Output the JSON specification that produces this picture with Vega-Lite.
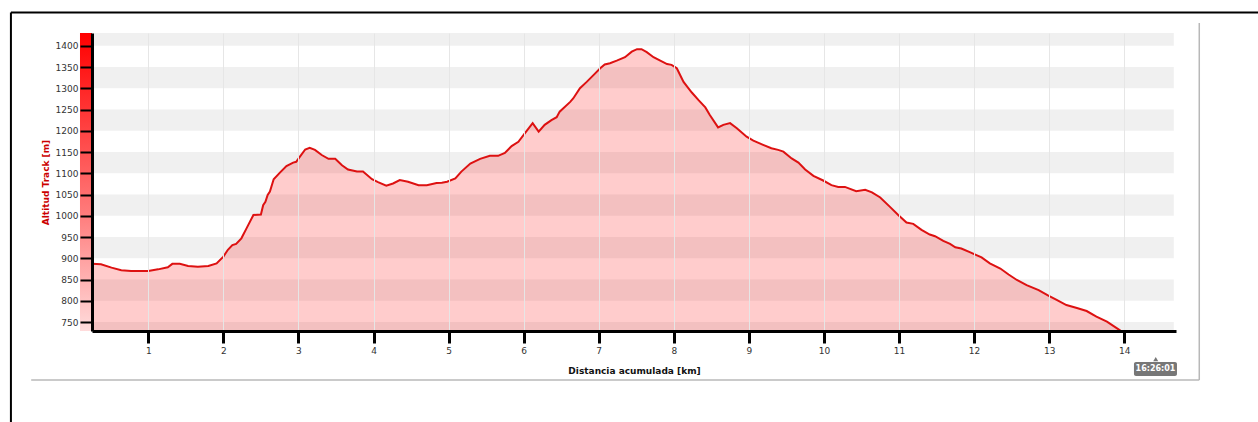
{
  "$schema": "https://vega.github.io/schema/vega-lite/v6.json",
  "width": 1084,
  "height": 298,
  "autosize": {"type": "none"},
  "padding": {"left": 92, "top": 33, "right": 82, "bottom": 91},
  "background": "white",
  "config": {"view": {"stroke": null}, "font": "DejaVu Sans"},
  "datasets": {
    "track": [
      {"km": 0.25, "alt": 887}, {"km": 0.37, "alt": 886}, {"km": 0.51, "alt": 878}, {"km": 0.64, "alt": 872},
      {"km": 0.77, "alt": 870}, {"km": 1.0, "alt": 870}, {"km": 1.13, "alt": 874}, {"km": 1.26, "alt": 879},
      {"km": 1.32, "alt": 887}, {"km": 1.42, "alt": 887}, {"km": 1.53, "alt": 882}, {"km": 1.66, "alt": 880},
      {"km": 1.8, "alt": 882}, {"km": 1.91, "alt": 888}, {"km": 2.0, "alt": 904}, {"km": 2.06, "alt": 920},
      {"km": 2.12, "alt": 931}, {"km": 2.17, "alt": 934}, {"km": 2.24, "alt": 947}, {"km": 2.31, "alt": 971},
      {"km": 2.4, "alt": 1002}, {"km": 2.5, "alt": 1003}, {"km": 2.53, "alt": 1025}, {"km": 2.56, "alt": 1033},
      {"km": 2.59, "alt": 1049}, {"km": 2.62, "alt": 1057}, {"km": 2.67, "alt": 1086}, {"km": 2.75, "alt": 1101},
      {"km": 2.84, "alt": 1117}, {"km": 2.93, "alt": 1125}, {"km": 2.97, "alt": 1127}, {"km": 3.02, "alt": 1139},
      {"km": 3.09, "alt": 1156}, {"km": 3.15, "alt": 1160}, {"km": 3.22, "alt": 1155}, {"km": 3.31, "alt": 1143},
      {"km": 3.4, "alt": 1134}, {"km": 3.49, "alt": 1134}, {"km": 3.58, "alt": 1119}, {"km": 3.66, "alt": 1109},
      {"km": 3.78, "alt": 1104}, {"km": 3.86, "alt": 1104}, {"km": 3.98, "alt": 1086}, {"km": 4.06, "alt": 1079},
      {"km": 4.17, "alt": 1071}, {"km": 4.26, "alt": 1076}, {"km": 4.35, "alt": 1084}, {"km": 4.46, "alt": 1080},
      {"km": 4.6, "alt": 1072}, {"km": 4.71, "alt": 1072}, {"km": 4.84, "alt": 1077}, {"km": 4.91, "alt": 1078},
      {"km": 4.98, "alt": 1080}, {"km": 5.09, "alt": 1088}, {"km": 5.17, "alt": 1104}, {"km": 5.29, "alt": 1123},
      {"km": 5.42, "alt": 1134}, {"km": 5.55, "alt": 1141}, {"km": 5.66, "alt": 1141}, {"km": 5.75, "alt": 1148},
      {"km": 5.84, "alt": 1164}, {"km": 5.93, "alt": 1174}, {"km": 6.02, "alt": 1195}, {"km": 6.12, "alt": 1218},
      {"km": 6.2, "alt": 1198}, {"km": 6.28, "alt": 1214}, {"km": 6.37, "alt": 1225}, {"km": 6.44, "alt": 1232},
      {"km": 6.48, "alt": 1245}, {"km": 6.62, "alt": 1268}, {"km": 6.66, "alt": 1276}, {"km": 6.75, "alt": 1300},
      {"km": 6.84, "alt": 1315}, {"km": 6.93, "alt": 1331}, {"km": 7.02, "alt": 1347}, {"km": 7.08, "alt": 1356},
      {"km": 7.15, "alt": 1359}, {"km": 7.24, "alt": 1365}, {"km": 7.35, "alt": 1373}, {"km": 7.44, "alt": 1386},
      {"km": 7.51, "alt": 1392}, {"km": 7.57, "alt": 1392}, {"km": 7.64, "alt": 1385}, {"km": 7.73, "alt": 1373},
      {"km": 7.82, "alt": 1365}, {"km": 7.91, "alt": 1357}, {"km": 7.97, "alt": 1355}, {"km": 8.04, "alt": 1347},
      {"km": 8.13, "alt": 1315}, {"km": 8.24, "alt": 1290}, {"km": 8.33, "alt": 1272}, {"km": 8.42, "alt": 1255},
      {"km": 8.48, "alt": 1237}, {"km": 8.59, "alt": 1208}, {"km": 8.66, "alt": 1214}, {"km": 8.75, "alt": 1218},
      {"km": 8.84, "alt": 1206}, {"km": 8.97, "alt": 1186}, {"km": 9.06, "alt": 1177}, {"km": 9.19, "alt": 1167},
      {"km": 9.3, "alt": 1159}, {"km": 9.39, "alt": 1155}, {"km": 9.46, "alt": 1151}, {"km": 9.57, "alt": 1135},
      {"km": 9.66, "alt": 1125}, {"km": 9.75, "alt": 1109}, {"km": 9.86, "alt": 1094}, {"km": 9.99, "alt": 1083},
      {"km": 10.1, "alt": 1072}, {"km": 10.19, "alt": 1068}, {"km": 10.28, "alt": 1068}, {"km": 10.43, "alt": 1058},
      {"km": 10.55, "alt": 1061}, {"km": 10.64, "alt": 1055}, {"km": 10.75, "alt": 1043}, {"km": 10.88, "alt": 1021},
      {"km": 10.99, "alt": 1002}, {"km": 11.1, "alt": 984}, {"km": 11.19, "alt": 981}, {"km": 11.3, "alt": 967},
      {"km": 11.41, "alt": 956}, {"km": 11.48, "alt": 952}, {"km": 11.59, "alt": 941}, {"km": 11.68, "alt": 934},
      {"km": 11.75, "alt": 926}, {"km": 11.83, "alt": 923}, {"km": 11.95, "alt": 914}, {"km": 12.1, "alt": 902},
      {"km": 12.21, "alt": 888}, {"km": 12.35, "alt": 876}, {"km": 12.46, "alt": 862}, {"km": 12.57, "alt": 849},
      {"km": 12.7, "alt": 837}, {"km": 12.86, "alt": 825}, {"km": 12.99, "alt": 812}, {"km": 13.1, "alt": 802},
      {"km": 13.23, "alt": 790}, {"km": 13.37, "alt": 783}, {"km": 13.5, "alt": 776}, {"km": 13.63, "alt": 763},
      {"km": 13.77, "alt": 751}, {"km": 13.95, "alt": 730}
    ],
    "bands": [
      {"lo": 1400, "hi": 1430}, {"lo": 1300, "hi": 1350}, {"lo": 1200, "hi": 1250}, {"lo": 1100, "hi": 1150},
      {"lo": 1000, "hi": 1050}, {"lo": 900, "hi": 950}, {"lo": 800, "hi": 850}, {"lo": 729, "hi": 750}
    ]
  },
  "encoding": {
    "x": {
      "type": "quantitative",
      "scale": {"domain": [0.25, 14.69], "nice": false, "zero": false},
      "axis": {
        "values": [1, 2, 3, 4, 5, 6, 7, 8, 9, 10, 11, 12, 13, 14],
        "format": "d", "labelOverlap": false,
        "grid": true, "gridColor": "#e6e6e6", "gridWidth": 1,
        "domainColor": "#000000", "domainWidth": 3,
        "tickColor": "#000000", "tickWidth": 3, "tickSize": 12,
        "labelFontSize": 9, "labelColor": "#333333", "labelPadding": 3,
        "title": "Distancia acumulada [km]", "titleFontSize": 9, "titleFontWeight": "bold",
        "titleColor": "#111111", "titlePadding": 11, "zindex": 1
      }
    },
    "y": {
      "type": "quantitative",
      "scale": {"domain": [729, 1430], "nice": false, "zero": false},
      "axis": {
        "values": [750, 800, 850, 900, 950, 1000, 1050, 1100, 1150, 1200, 1250, 1300, 1350, 1400],
        "format": "d", "labelOverlap": false, "labelBound": false,
        "grid": false,
        "domainColor": "#000000", "domainWidth": 3,
        "tickColor": "#000000", "tickWidth": 2, "tickSize": 12,
        "labelFontSize": 9, "labelColor": "#333333", "labelPadding": 2,
        "title": "Altitud Track [m]", "titleFontSize": 9, "titleFontWeight": "bold",
        "titleColor": "#cc0000", "titlePadding": 5, "zindex": 1
      }
    }
  },
  "layer": [
    {
      "data": {"name": "bands"},
      "mark": {"type": "rect", "fill": "#e6e6e6", "opacity": 0.6},
      "encoding": {
        "x": {"datum": 0.25, "type": "quantitative"},
        "x2": {"datum": 14.66},
        "y": {"field": "lo", "type": "quantitative"},
        "y2": {"field": "hi"}
      }
    },
    {
      "data": {"values": [{}]},
      "mark": {
        "type": "rect",
        "fill": {"gradient": "linear", "x1": 0, "y1": 0, "x2": 0, "y2": 1,
          "stops": [{"offset": 0, "color": "#ff0000"}, {"offset": 0.6, "color": "#ff7a7a"}, {"offset": 1, "color": "#ffdcdc"}]}
      },
      "encoding": {
        "x": {"datum": 0.09, "type": "quantitative"},
        "x2": {"datum": 0.25},
        "y": {"datum": 729, "type": "quantitative"},
        "y2": {"datum": 1430}
      }
    },
    {
      "data": {"name": "track"},
      "mark": {"type": "area", "fill": "#ff0000", "fillOpacity": 0.2},
      "encoding": {
        "x": {"field": "km", "type": "quantitative"},
        "y": {"field": "alt", "type": "quantitative"},
        "y2": {"datum": 729}
      }
    },
    {
      "data": {"name": "track"},
      "mark": {"type": "line", "stroke": "#dd1111", "strokeWidth": 2},
      "encoding": {
        "x": {"field": "km", "type": "quantitative"},
        "y": {"field": "alt", "type": "quantitative"}
      }
    },
    {
      "data": {"values": [{}]},
      "mark": {"type": "rule", "stroke": "#b8b8b8", "strokeWidth": 1.5},
      "encoding": {
        "x": {"datum": -0.56, "type": "quantitative"},
        "x2": {"datum": 15.0},
        "y": {"datum": 613.7, "type": "quantitative"}
      }
    },
    {
      "data": {"values": [{}]},
      "mark": {"type": "rule", "stroke": "#b8b8b8", "strokeWidth": 1.5},
      "encoding": {
        "x": {"datum": 15.0, "type": "quantitative"},
        "y": {"datum": 613.7, "type": "quantitative"},
        "y2": {"datum": 1453.5}
      }
    },
    {
      "data": {"values": [{}]},
      "mark": {"type": "rule", "stroke": "#000000", "strokeWidth": 2},
      "encoding": {
        "x": {"datum": -0.83, "type": "quantitative"},
        "x2": {"datum": 16.5},
        "y": {"datum": 1478, "type": "quantitative"}
      }
    },
    {
      "data": {"values": [{}]},
      "mark": {"type": "rule", "stroke": "#000000", "strokeWidth": 2},
      "encoding": {
        "x": {"datum": -0.83, "type": "quantitative"},
        "y": {"datum": 1478, "type": "quantitative"},
        "y2": {"datum": 480}
      }
    },
    {
      "data": {"values": [{}]},
      "mark": {"type": "rect", "fill": "#777777", "cornerRadius": 2},
      "encoding": {
        "x": {"datum": 14.13, "type": "quantitative"},
        "x2": {"datum": 14.703},
        "y": {"datum": 623.1, "type": "quantitative"},
        "y2": {"datum": 656.1}
      }
    },
    {
      "data": {"values": [{}]},
      "mark": {"type": "point", "shape": "triangle-up", "filled": true, "fill": "#777777", "size": 25, "opacity": 1},
      "encoding": {
        "x": {"datum": 14.42, "type": "quantitative"},
        "y": {"datum": 663, "type": "quantitative"}
      }
    },
    {
      "data": {"values": [{"label": "16:26:01"}]},
      "mark": {"type": "text", "color": "#ffffff", "fontWeight": "bold", "fontSize": 8, "align": "center", "baseline": "middle"},
      "encoding": {
        "x": {"datum": 14.417, "type": "quantitative"},
        "y": {"datum": 639.6, "type": "quantitative"},
        "text": {"field": "label"}
      }
    }
  ]
}
